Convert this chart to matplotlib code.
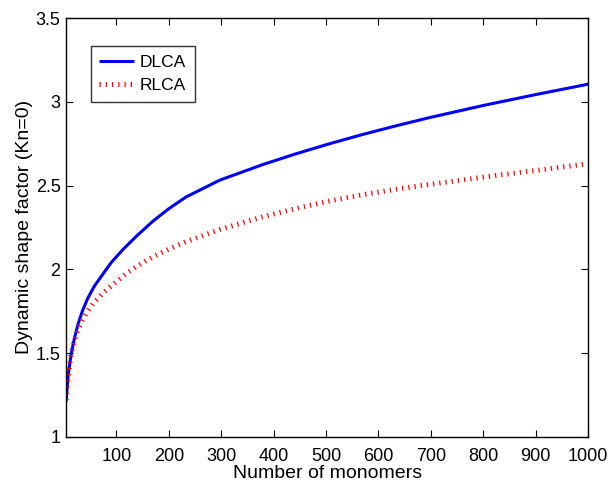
import matplotlib
matplotlib.use('Agg')
import matplotlib.pyplot as plt

plt.rcParams['font.family'] = ['Liberation Sans', 'DejaVu Sans']

# dynamic shape factor vs. number of monomers, continuum regime (Kn=0)
n_dlca = [4, 8, 14, 20, 27, 35, 45, 58, 75, 90, 113, 140, 170, 200, 233,
          297, 379, 443, 507, 570, 634, 698, 800, 900, 1000]
chi_dlca = [1.21, 1.37, 1.50, 1.59, 1.675, 1.75, 1.825, 1.90, 1.975, 2.04,
            2.12, 2.203, 2.288, 2.362, 2.432, 2.532, 2.625, 2.69, 2.75, 2.805,
            2.857, 2.906, 2.978, 3.043, 3.105]

n_rlca = [4, 8, 14, 20, 27, 35, 45, 58, 75, 90, 119, 140, 170, 200, 233,
          297, 379, 443, 507, 570, 634, 698, 800, 900, 1000]
chi_rlca = [1.22, 1.36, 1.50, 1.575, 1.64, 1.695, 1.75, 1.805, 1.86, 1.90,
            1.975, 2.02, 2.075, 2.12, 2.165, 2.237, 2.313, 2.363, 2.408,
            2.445, 2.478, 2.507, 2.55, 2.59, 2.63]

x_ticks = [100, 200, 300, 400, 500, 600, 700, 800, 900, 1000]
y_ticks = [1, 1.5, 2, 2.5, 3, 3.5]
y_tick_labels = ['1', '1.5', '2', '2.5', '3', '3.5']

fig = plt.figure(figsize=(6.12, 4.87), dpi=100)
ax = fig.add_axes([0.108, 0.103, 0.853, 0.860])

ax.plot(n_dlca, chi_dlca, color='#0000ff', lw=2.2, label='DLCA',
        solid_capstyle='butt', solid_joinstyle='round')
ax.plot(n_rlca, chi_rlca, color='#ff0000', lw=3.6, label='RLCA',
        linestyle=(0, (0.25, 1.0)), dash_capstyle='butt')

ax.set_xlim(4, 1000)
ax.set_ylim(1, 3.5)
ax.set_xticks(x_ticks)
ax.set_yticks(y_ticks)
ax.set_yticklabels(y_tick_labels)

ax.tick_params(direction='in', length=5, width=0.8, labelsize=13,
               top=True, right=True)
ax.tick_params(axis='x', pad=8)
ax.tick_params(axis='y', pad=4)
for sp in ax.spines.values():
    sp.set_linewidth(1.0)

ax.set_xlabel('Number of monomers', fontsize=14, labelpad=0)
ax.set_ylabel('Dynamic shape factor (Kn=0)', fontsize=14, labelpad=2)

leg = ax.legend(loc='upper left', bbox_to_anchor=(0.047, 0.932), fontsize=12.5,
                frameon=True, fancybox=False, edgecolor='black',
                handlelength=2.0, handletextpad=0.35, borderpad=0.5,
                labelspacing=0.45, borderaxespad=0)
leg.get_frame().set_linewidth(1.0)

fig.savefig('out.png', dpi=100, facecolor='white')
plt.close(fig)
